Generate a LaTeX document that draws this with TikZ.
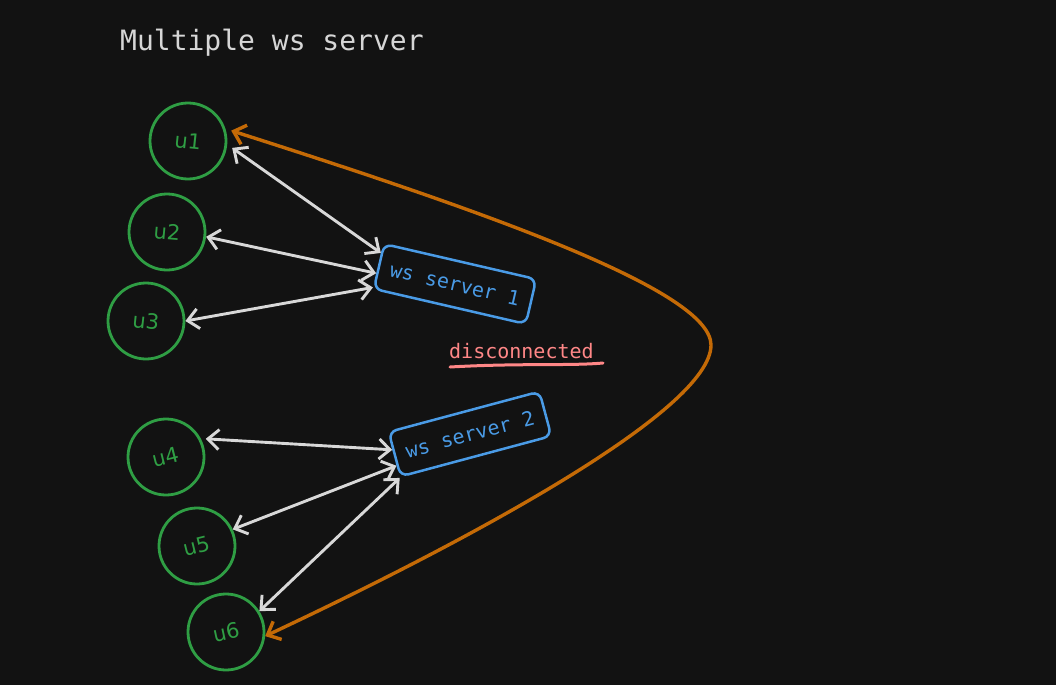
\documentclass[tikz,border=0pt]{standalone}
\usepackage{fontspec}
\setmainfont{DejaVu Sans}
\setmonofont{DejaVu Sans Mono}
\usetikzlibrary{arrows.meta,calc}
\definecolor{bg}{HTML}{121212}
\definecolor{ugreen}{HTML}{2F9E44}
\definecolor{sblue}{HTML}{4A9BE6}
\definecolor{lgray}{HTML}{D8D8D8}
\definecolor{oline}{HTML}{C46A06}
\definecolor{dred}{HTML}{FF8787}
\definecolor{ttl}{HTML}{D6D6D6}
\begin{document}
\begin{tikzpicture}[x=1pt,y=-1pt,
  user/.style={circle,draw=ugreen,line width=2.8pt,minimum size=76pt,inner sep=0pt,text=ugreen,font=\fontsize{21}{21}\selectfont},
  server/.style={rectangle,rounded corners=8pt,draw=sblue,line width=2.5pt,minimum width=156pt,minimum height=46pt,inner sep=0pt,text=sblue,font=\ttfamily\fontsize{20}{20}\selectfont},
  link/.style={draw=lgray,line width=2.9pt,{Straight Barb[length=11pt,width=20pt]}-{Straight Barb[length=11pt,width=20pt]}},
  olink/.style={draw=oline,line width=3.4pt,{Straight Barb[length=11pt,width=20pt]}-{Straight Barb[length=11pt,width=20pt]}},
  plain/.style={inner sep=0pt}
  ]
\fill[bg] (0,0) rectangle (1056,685);
\useasboundingbox (0,0) rectangle (1056,685);

\node[plain,anchor=base west,text=ttl,font=\ttfamily\fontsize{28}{28}\selectfont] (title) at (120,50) {Multiple ws server};

\node[user] (u1) at (188,141) {\rotatebox{-6}{u1}};
\node[user] (u2) at (167,232) {\rotatebox{-5}{u2}};
\node[user] (u3) at (146,321) {\rotatebox{-6}{u3}};
\node[user] (u4) at (166,457) {\rotatebox{14}{u4}};
\node[user] (u5) at (197,546) {\rotatebox{14}{u5}};
\node[user] (u6) at (226,632) {\rotatebox{12}{u6}};

\node[server,rotate=-13] (s1) at (455,284) {ws server 1};
\node[server,rotate=15] (s2) at (470,434) {ws server 2};

\node[plain,anchor=base west,text=dred,font=\ttfamily\fontsize{20}{20}\selectfont] (dis) at (449,358) {disconnected};
\draw[dred,line width=3pt,line cap=round] (450,367) .. controls (520,363) and (570,366) .. (603,363);

\draw[link,shorten <=6pt] (u1.-5) -- ($(s1.north west)!0.22!(s1.south west)$);
\draw[link] (u2.-7) -- ($(s1.north west)!0.65!(s1.south west)$);
\draw[link] (u3.0) -- ($(s1.north west)!0.95!(s1.south west)$);
\draw[link,shorten <=5pt] (u4.28) -- ($(s2.north west)!0.4!(s2.south west)$);
\draw[link] (u5.25) -- ($(s2.north west)!0.74!(s2.south west)$);
\draw[link] (u6.32) -- (s2.south west);

\coordinate (bend) at (711,345);
\draw[olink,shorten >=6pt] (u6.-6) .. controls (470,540) and (711,410) .. (bend) .. controls (711,290) and (480,210) .. (u1.18);
\end{tikzpicture}
\end{document}
